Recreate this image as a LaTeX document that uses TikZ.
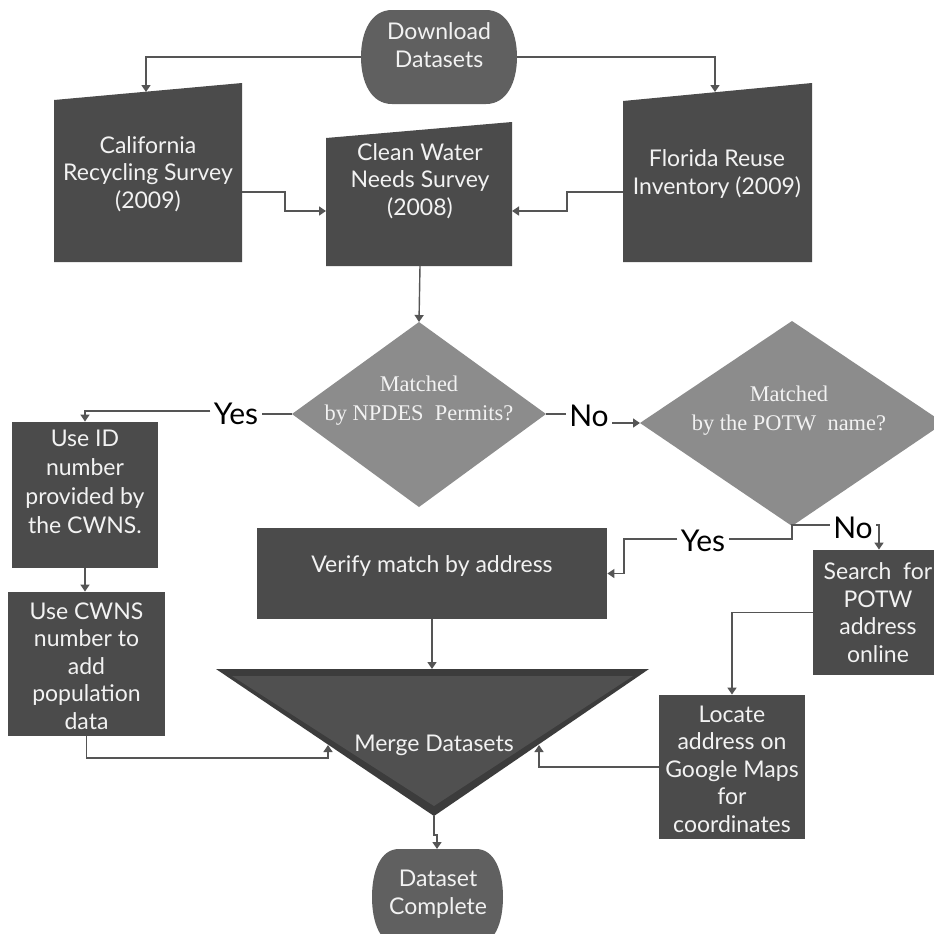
\documentclass[tikz,border=0pt]{standalone}
\usepackage{fontspec}
\setmainfont{Lato}
\newfontfamily\serifx{Liberation Serif}
\usetikzlibrary{arrows.meta,calc}
\definecolor{boxc}{HTML}{4B4B4B}
\definecolor{termc}{HTML}{606060}
\definecolor{diac}{HTML}{8C8C8C}
\definecolor{linec}{HTML}{555555}
\definecolor{txtc}{HTML}{F2F2F2}
\definecolor{trib}{HTML}{3C3C3C}
\definecolor{trif}{HTML}{505050}
\begin{document}
\begin{tikzpicture}[x=0.5pt,y=-0.5pt,
  conn/.style={draw=linec,line width=0.7pt},
  arr/.style={conn,-{Triangle[width=4.5pt,length=3.5pt]}},
  btext/.style={text=txtc,font=\fontsize{11.5}{13.75}\selectfont,align=center,inner sep=0pt},
  rbox/.style={fill=boxc,inner sep=0pt},
  ghost/.style={inner sep=0pt},
  lbl/.style={font=\fontsize{15}{17}\selectfont,text=black,inner sep=1.5pt},
  dtext/.style={text=txtc,font=\serifx\fontsize{11.2}{14.5}\selectfont,align=center,inner sep=0pt}]
\useasboundingbox (0,0) rectangle (934,934);
\fill[white] (0,0) rectangle (934,934);

% Download Datasets
\fill[termc] (392,10) -- (486,10) .. controls (507,10) and (517,32) .. (517,57) .. controls (517,82) and (507,104) .. (486,104) -- (392,104) .. controls (371,104) and (361,82) .. (361,57) .. controls (361,32) and (371,10) .. (392,10) -- cycle;
\node[ghost,minimum width=78pt,minimum height=47pt] (dl) at (439,57) {};
\node[btext] (dlt) at (439,45) {Download\\Datasets};

% trapezoids
\fill[boxc] (54,100) -- (242,83) -- (242,262) -- (54,262) -- cycle;
\node[btext] (cal) at (148,174) {California\\Recycling Survey\\(2009)};
\fill[boxc] (326,138) -- (512,122) -- (512,266) -- (326,266) -- cycle;
\node[btext] (cw) at (420,181) {Clean Water\\Needs Survey\\(2008)};
\fill[boxc] (623,101) -- (812,83) -- (812,262) -- (623,262) -- cycle;
\node[btext] (fl) at (717,174) {Florida Reuse\\Inventory (2009)};
\coordinate (calT) at (146,92);
\coordinate (flT) at (715,92);
\coordinate (calR) at (242,192);
\coordinate (flL) at (623,192);
\coordinate (cwL) at (326,211);
\coordinate (cwR) at (512,211);
\coordinate (cwB) at (420,266);

% diamonds
\fill[diac] (419,322) -- (546,414) -- (419,507) -- (292,414) -- cycle;
\node[dtext] (d1) at (419,401) {Matched\\by NPDES\ \ Permits?};
\coordinate (d1T) at (419,322);
\coordinate (d1L) at (292,414);
\coordinate (d1R) at (546,414);
\fill[diac] (792,321) -- (944,423) -- (792,526) -- (640,423) -- cycle;
\node[dtext] (d2) at (789,411) {Matched\\by the POTW\ \ name?};
\coordinate (d2L) at (640,423);
\coordinate (d2B) at (792,526);

% rectangles
\node[rbox,minimum width=73pt,minimum height=73pt] (useid) at (85,495) {};
\node[btext,font=\fontsize{11.5}{14.5}\selectfont] (useidt) at (85,482) {Use ID\\number\\provided by\\the CWNS.};
\node[rbox,minimum width=78.5pt,minimum height=72pt] (usecwns) at (86.5,664) {};
\node[btext] (usecwnst) at (86.5,666) {Use CWNS\\number to\\add\\population\\data};
\node[rbox,minimum width=175pt,minimum height=45.5pt] (verify) at (432,573.5) {};
\node[btext] (verifyt) at (432,566) {Verify match by address};
\node[rbox,minimum width=66pt,minimum height=62.5pt] (search) at (879,612.5) {};
\node[btext] (searcht) at (878,612.5) {Search\ \ for\\POTW\\address\\online};
\node[rbox,minimum width=73pt,minimum height=72pt] (locate) at (732,767) {};
\node[btext] (locatet) at (732,769) {Locate\\address on\\Google Maps\\for\\coordinates};

% merge triangle
\fill[trib] (216,669) -- (649,669) -- (434,816) -- cycle;
\fill[trif] (232,676) -- (633,676) -- (434,806) -- cycle;
\node[btext] (mg) at (434,745) {Merge Datasets};
\coordinate (mgT) at (434,669);
\coordinate (mgB) at (434,816);
\coordinate (mgL) at (328,745);
\coordinate (mgR) at (539,745);

% Dataset Complete
\fill[termc] (399,849) -- (476,849) .. controls (495,849) and (503,872) .. (503,897) .. controls (503,922) and (495,945) .. (476,945) -- (399,945) .. controls (380,945) and (372,922) .. (372,897) .. controls (372,872) and (380,849) .. (399,849) -- cycle;
\node[btext] (dc) at (438,894) {Dataset\\Complete};
\coordinate (dcT) at (437,849);

% labels
\node[lbl] (yes1) at (236,414) {Yes};
\node[lbl] (no1) at (589,416) {No};
\node[lbl] (yes2) at (703,541) {Yes};
\node[lbl] (no2) at (853,528) {No};

% connectors
\draw[arr] (dl.west) -| (calT);
\draw[arr] (dl.east) -| (flT);
\draw[arr] (calR) -- (285,192) |- (cwL);
\draw[arr] (flL) -- (567,192) |- (cwR);
\draw[arr] (cwB) -- (d1T);
\draw[conn] (d1L) -- (yes1.east |- d1L);
\draw[arr] (yes1.west |- 0,411) -| (useid.north);
\draw[arr] (useid.south) -- (useid.south |- usecwns.north);
\draw[conn] (d1R) -- (no1.west |- d1R);
\draw[arr] (no1.east |- d2L) -- (d2L);
\draw[conn] (d2B) |- (yes2.east |- 0,539);
\draw[arr] (yes2.west |- 0,539) -- (624,539) |- (verify.east);
\draw[conn] (d2B) -- (792,525) -- (no2.west |- 0,525);
\draw[arr] (no2.east |- 0,525) -| (search.north);
\draw[arr] (search.west) -| (locate.north);
\draw[arr] (verify.south) -- (verify.south |- mgT);
\draw[arr] (usecwns.south) -- (usecwns.south |- 0,758) -| (mgL);
\draw[arr] (locate.west) -| (mgR);
\draw[arr] (mgB) -- (434,835) -- (437,835) -- (dcT);
\end{tikzpicture}
\end{document}
